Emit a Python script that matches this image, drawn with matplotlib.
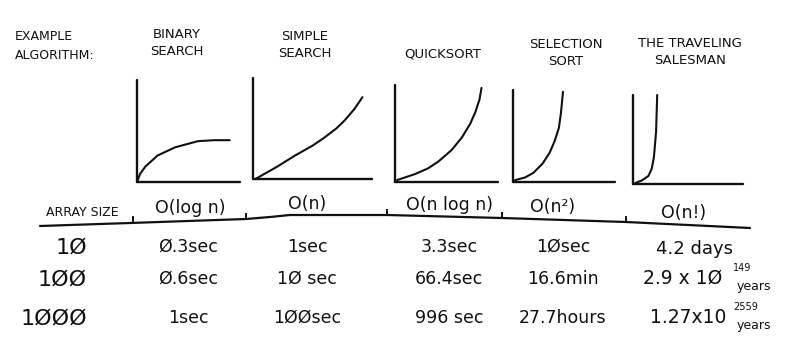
import matplotlib.pyplot as plt

plt.rcParams['font.family'] = ['DejaVu Sans']

# header texts
row_label = ['EXAMPLE', 'ALGORITHM:']
algorithms = [['BINARY', 'SEARCH'], ['SIMPLE', 'SEARCH'], ['QUICKSORT'],
              ['SELECTION', 'SORT'], ['THE TRAVELING', 'SALESMAN']]
big_o = ['O(log n)', 'O(n)', 'O(n log n)', 'O(n²)', 'O(n!)']
array_sizes = ['1Ø', '1ØØ', '1ØØØ']

# run times per algorithm (rows: 10, 100, 1000 items)
binary_times = ['Ø.3sec', 'Ø.6sec', '1sec']
simple_times = ['1sec', '1Ø sec', '1ØØsec']
quick_times = ['3.3sec', '66.4sec', '996 sec']
selection_times = ['1Øsec', '16.6min', '27.7hours']
tsp_times = ['4.2 days', '2.9 x 1Ø', '1.27x10']
tsp_exponents = ['', '149', '2559']
tsp_units = ['', 'years', 'years']

# curve shapes (0..1 inside each little plot)
binary_x = [0.0, 0.03, 0.08, 0.2, 0.37, 0.59, 0.75, 0.9]
binary_y = [0.0, 0.08, 0.15, 0.26, 0.34, 0.40, 0.41, 0.41]
simple_x = [0.02, 0.2, 0.35, 0.5, 0.6, 0.7, 0.77, 0.85, 0.92]
simple_y = [0.0, 0.12, 0.23, 0.33, 0.41, 0.5, 0.58, 0.69, 0.81]
quick_x = [0.02, 0.19, 0.32, 0.42, 0.55, 0.65, 0.73, 0.78, 0.82, 0.84]
quick_y = [0.02, 0.08, 0.14, 0.21, 0.33, 0.46, 0.6, 0.72, 0.85, 0.97]
selection_x = [0.02, 0.12, 0.2, 0.29, 0.36, 0.41, 0.45, 0.47, 0.49]
selection_y = [0.02, 0.05, 0.1, 0.2, 0.32, 0.45, 0.59, 0.75, 0.98]
tsp_x = [0.02, 0.08, 0.14, 0.17, 0.19, 0.21, 0.215, 0.22]
tsp_y = [0.01, 0.04, 0.09, 0.17, 0.3, 0.59, 0.8, 1.0]

curves = [(binary_x, binary_y), (simple_x, simple_y), (quick_x, quick_y),
          (selection_x, selection_y), (tsp_x, tsp_y)]

W, H = 793, 354
fig = plt.figure(figsize=(W / 100, H / 100), dpi=100)
fig.patch.set_facecolor('white')

# canvas in pixel units for the hand-drawn table
bg = fig.add_axes([0, 0, 1, 1])
bg.set_xlim(0, W)
bg.set_ylim(H, 0)
bg.axis('off')

ink = '#111111'

# little plot boxes: left, bottom, right, top (pixels)
boxes = [(137, 182, 240, 80), (253, 179, 372, 78), (395, 182, 498, 85),
         (513, 182, 615, 90), (633, 184, 743, 95)]

for (l, b, r, t), (cx, cy) in zip(boxes, curves):
    ax = fig.add_axes([l / W, 1 - b / H, (r - l) / W, (b - t) / H])
    ax.set_xlim(0, 1)
    ax.set_ylim(0, 1)
    ax.patch.set_alpha(0)
    for s in ['top', 'right']:
        ax.spines[s].set_visible(False)
    for s in ['left', 'bottom']:
        ax.spines[s].set_linewidth(1.7)
        ax.spines[s].set_color(ink)
        ax.spines[s].set_capstyle('round')
    ax.set_xticks([])
    ax.set_yticks([])
    ax.plot(cx, cy, color=ink, lw=1.5, clip_on=False, solid_capstyle='round',
            solid_joinstyle='round')

# titles
bg.text(15, 46, '\n'.join(row_label), ha='left', va='center', fontsize=9,
        linespacing=1.55, color=ink)
title_pos = [(177, 43), (305, 45), (443, 54), (566, 53), (690, 52)]
for name, (x, y) in zip(algorithms, title_pos):
    bg.text(x, y, '\n'.join(name), ha='center', va='center', fontsize=9.5,
            linespacing=1.45, color=ink)

# header row
bg.text(82, 212, 'ARRAY SIZE', ha='center', va='center', fontsize=9, color=ink)
o_pos = [(190, 208), (307, 204), (449, 205), (553, 207), (684, 213)]
for label, (x, y) in zip(big_o, o_pos):
    bg.text(x, y, label, ha='center', va='center', fontsize=12.5, color=ink)

# wobbly rule with little separator ticks
rule_x = [40, 130, 246, 270, 290, 387, 502, 626, 750]
rule_y = [226, 223, 219, 217, 215, 215, 218, 222, 228]
bg.plot(rule_x, rule_y, color=ink, lw=1.6, solid_capstyle='round',
        solid_joinstyle='round')
tick_x = [133, 246, 387, 502, 626]
tick_y = [222, 219, 215, 218, 222]
for x, y in zip(tick_x, tick_y):
    bg.plot([x, x], [y, y - 5], color=ink, lw=1.4)

# body rows
baselines = [254, 286, 325]
for size, y in zip(array_sizes, baselines):
    bg.text(87, y, size, ha='right', va='baseline', fontsize=16, color=ink)

col_x = [188, 307, 449, 563]
columns = [binary_times, simple_times, quick_times, selection_times]
for x, col in zip(col_x, columns):
    for txt, y in zip(col, baselines):
        bg.text(x, y - 2, txt, ha='center', va='baseline', fontsize=12.5, color=ink)

bg.text(695, baselines[0], tsp_times[0], ha='center', va='baseline',
        fontsize=13, color=ink)
for i in [1, 2]:
    y = baselines[i] - 2
    bg.text(643 if i == 1 else 650, y, tsp_times[i], ha='left', va='baseline',
            fontsize=13.5, color=ink)
    bg.text(733, y - 13, tsp_exponents[i], ha='left', va='baseline',
            fontsize=7, color=ink)
    bg.text(737, y + 6, tsp_units[i], ha='left', va='baseline',
            fontsize=9, color=ink)

fig.savefig('out.png', dpi=100, facecolor='white')
